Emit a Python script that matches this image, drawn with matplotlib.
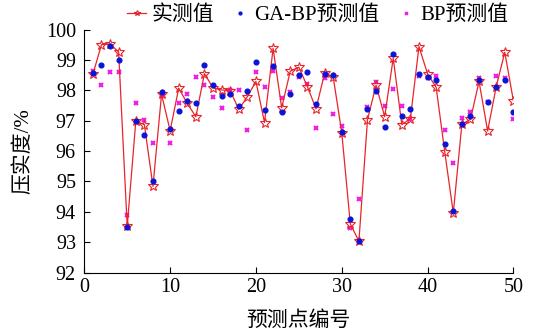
import numpy as np
import matplotlib
matplotlib.use("Agg")
import matplotlib.pyplot as plt

plt.rcParams['font.family'] = ['Liberation Serif', 'Noto Sans CJK SC']
plt.rcParams['mathtext.fontset'] = 'stix'

# 预测点编号
idx = list(range(1, 51))

# 实测值
actual = [98.53, 99.50, 99.53, 99.26, 93.52, 96.98, 96.87, 94.84, 97.87, 96.67,
          98.07, 97.57, 97.13, 98.55, 98.08, 98.01, 97.99, 97.37, 97.79, 98.29,
          96.94, 99.38, 97.42, 98.63, 98.76, 98.12, 97.39, 98.56, 98.45, 96.61,
          93.60, 93.03, 97.03, 98.17, 97.13, 99.06, 96.87, 97.07, 99.44, 98.54,
          98.10, 95.98, 93.96, 96.89, 97.04, 98.29, 96.66, 98.12, 99.25, 97.66]

# GA-BP预测值
ga_bp = [98.58, 98.83, 99.46, 99.00, 93.50, 97.00, 96.53, 95.02, 97.94, 96.71,
         97.33, 97.66, 97.57, 98.83, 98.17, 97.81, 97.88, 97.49, 97.99, 98.93,
         97.34, 98.79, 97.29, 97.87, 98.52, 98.59, 97.55, 98.54, 98.51, 96.64,
         93.76, 93.03, 97.37, 97.98, 96.78, 99.19, 97.15, 97.37, 98.53, 98.45,
         98.34, 96.23, 94.03, 96.88, 97.16, 98.34, 97.62, 98.12, 98.34, 97.28]

# BP预测值
bp = [98.63, 98.17, 98.61, 98.61, 93.88, 97.59, 97.02, 96.28, 97.83, 96.25,
      97.59, 97.87, 98.45, 98.19, 97.79, 97.42, 98.01, 98.01, 96.69, 98.59,
      98.10, 98.62, 97.76, 97.96, 98.45, 98.20, 96.77, 98.42, 97.21, 96.83,
      93.46, 94.42, 97.44, 98.26, 97.48, 98.03, 97.48, 97.07, 98.48, 98.40,
      98.47, 96.69, 95.61, 97.10, 97.29, 98.42, 97.62, 98.47, 98.40, 97.05]

fig = plt.figure(figsize=(5.37, 3.32), dpi=100)
ax = fig.add_axes([0.157, 0.179, 0.799, 0.732])

ax.plot(idx, actual, color='#e8242b', lw=0.9, marker='*', markersize=7,
        markerfacecolor='none', markeredgecolor='#e8242b', markeredgewidth=0.8,
        label='实测值', zorder=3)
ax.plot(idx, ga_bp, ls='none', marker='o', markersize=3.4, color='#0a14d8',
        label='GA-BP预测值', zorder=4)
ax.plot(idx, bp, ls='none', marker='x', markersize=3.2, markeredgewidth=1.5,
        color='#f01ee6', label='BP预测值', zorder=2)

ax.set_xlim(0, 50)
ax.set_ylim(92, 100)
ax.set_xticks(range(0, 51, 10))
ax.set_yticks(range(92, 101, 1))
ax.spines['top'].set_visible(False)
ax.spines['right'].set_visible(False)
ax.tick_params(direction='in', length=4, width=0.8, labelsize=14.5)
ax.tick_params(axis='y', pad=6)
ax.tick_params(axis='x', pad=4)

ax.set_xlabel('预测点编号', fontsize=15, labelpad=10)
ax.set_ylabel('压实度/%', fontsize=15, labelpad=9)

fig.legend(loc='center', bbox_to_anchor=(0.592, 0.953), ncol=3, frameon=False,
           fontsize=15, handlelength=0.9, handletextpad=0.25, columnspacing=0.8,
           markerscale=0.6, borderpad=0)

fig.savefig('out.png', dpi=100)
